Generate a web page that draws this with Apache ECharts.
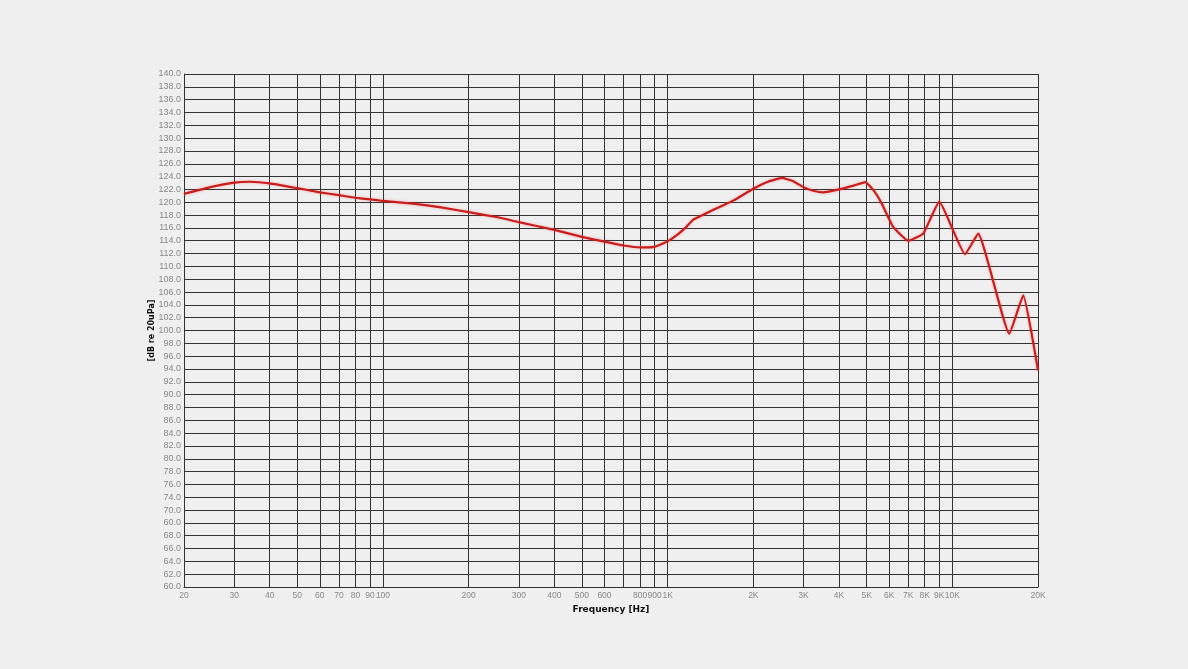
<!DOCTYPE html>
<html>
<head>
<meta charset="utf-8">
<script src="https://cdn.jsdelivr.net/npm/echarts@6/dist/echarts.min.js"></script>
<style>
html,body{margin:0;padding:0;background:#efefef;}
#chart{width:1188px;height:669px;}
</style>
</head>
<body>
<div id="chart"></div>
<script>
// Frequency response data (Hz, dB)
var freqs = [20, 25, 30, 34, 40, 50, 60, 70, 80, 90, 100, 130, 160, 200, 250, 300, 400, 500, 600, 700, 800, 900, 1000, 1080, 1166, 1230, 1300, 1486, 1700, 2000, 2250, 2516, 2750, 3000, 3250, 3522, 4000, 4500, 4950, 5300, 5650, 6190, 7000, 7900, 9000, 11080, 12330, 15850, 17750, 20000];
var spl = [121.3, 122.4, 123.05, 123.2, 122.95, 122.2, 121.55, 121.1, 120.7, 120.45, 120.2, 119.75, 119.2, 118.45, 117.7, 116.9, 115.7, 114.6, 113.85, 113.25, 112.95, 113.05, 113.9, 114.9, 116.2, 117.3, 117.8, 119.05, 120.25, 122.1, 123.2, 123.8, 123.3, 122.35, 121.8, 121.55, 122.0, 122.6, 123.15, 121.8, 119.8, 116.2, 114.0, 115.1, 120.1, 111.9, 115.1, 99.5, 105.5, 93.8];

// X grid lines and labels
var xGridValues = [20, 30, 40, 50, 60, 70, 80, 90, 100, 200, 300, 400, 500, 600, 700, 800, 900, 1000, 2000, 3000, 4000, 5000, 6000, 7000, 8000, 9000, 10000, 20000];
var xLabelValues = [20, 30, 40, 50, 60, 70, 80, 90, 100, 200, 300, 400, 500, 600, 800, 900, 1000, 2000, 3000, 4000, 5000, 6000, 7000, 8000, 9000, 10000, 20000];
var xLabelTexts = ['20', '30', '40', '50', '60', '70', '80', '90', '100', '200', '300', '400', '500', '600', '800', '900', '1K', '2K', '3K', '4K', '5K', '6K', '7K', '8K', '9K', '10K', '20K'];

// Y tick labels from 60 to 140 step 2 (as printed in the reference)
var yTickLabels = ['60.0', '62.0', '64.0', '66.0', '68.0', '60.0', '70.0', '74.0', '76.0', '78.0', '80.0', '82.0', '84.0', '86.0', '88.0', '90.0', '92.0', '94.0', '96.0', '98.0', '100.0', '102.0', '104.0', '106.0', '108.0', '110.0', '112.0', '114.0', '116.0', '118.0', '120.0', '122.0', '124.0', '126.0', '128.0', '130.0', '132.0', '134.0', '136.0', '138.0', '140.0'];

var seriesData = freqs.map(function (f, i) { return [f, spl[i]]; });

var chart = echarts.init(document.getElementById('chart'), null, {renderer: 'canvas'});
var gridColor = '#333333';
var labelFont = 'Liberation Sans';
chart.setOption({
  backgroundColor: '#efefef',
  animation: false,
  grid: {left: 184, right: 150, top: 74, bottom: 82, containLabel: false},
  xAxis: {
    type: 'log',
    logBase: 10,
    min: 20,
    max: 20000,
    name: 'Frequency [Hz]',
    nameLocation: 'middle',
    nameGap: 16,
    nameTextStyle: {fontSize: 9, fontWeight: 'bold', color: '#111', fontFamily: 'DejaVu Sans'},
    axisLine: {show: true, lineStyle: {color: gridColor, width: 1}},
    axisTick: {show: false, customValues: xGridValues},
    axisLabel: {
      customValues: xLabelValues,
      fontSize: 8.5,
      color: '#888',
      margin: 4,
      fontFamily: labelFont,
      hideOverlap: false,
      formatter: function (v) {
        var idx = xLabelValues.indexOf(Math.round(v));
        return idx >= 0 ? xLabelTexts[idx] : '';
      }
    },
    splitLine: {show: true, lineStyle: {color: gridColor, width: 1}},
    minorTick: {show: false},
    minorSplitLine: {show: false}
  },
  yAxis: {
    type: 'value',
    min: 60,
    max: 140,
    interval: 2,
    name: '[dB re 20uPa]',
    nameLocation: 'middle',
    nameGap: 28,
    nameMoveOverlap: false,
    nameRotate: 90,
    nameTextStyle: {fontSize: 8, fontWeight: 'bold', color: '#111', fontFamily: 'DejaVu Sans'},
    axisLine: {show: true, lineStyle: {color: gridColor, width: 1}},
    axisTick: {show: false},
    axisLabel: {
      fontSize: 9,
      color: '#888',
      margin: 3,
      fontFamily: labelFont,
      formatter: function (v) {
        var idx = Math.round((v - 60) / 2);
        return yTickLabels[idx];
      }
    },
    splitLine: {show: true, lineStyle: {color: gridColor, width: 1}}
  },
  series: [{
    type: 'line',
    data: seriesData,
    showSymbol: false,
    smooth: 0.12,
    lineStyle: {color: '#cc1d1d', width: 2.2, shadowColor: 'rgba(230,60,60,0.35)', shadowBlur: 3},
    itemStyle: {color: '#cc1d1d'}
  }]
});
</script>
</body>
</html>
